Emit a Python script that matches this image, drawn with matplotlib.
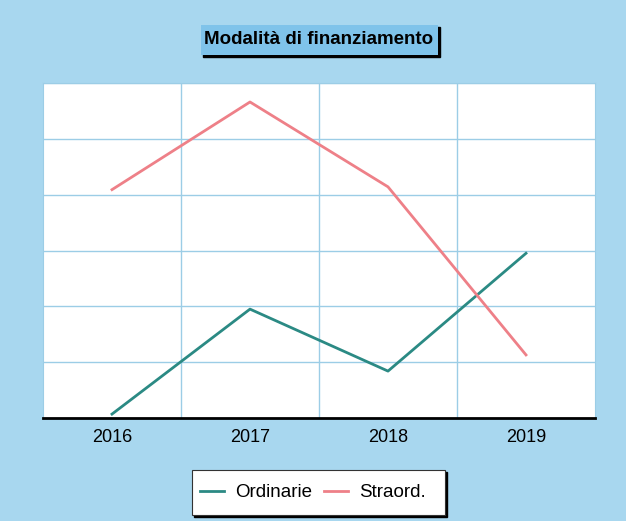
import matplotlib.pyplot as plt
from matplotlib.patches import Rectangle

plt.rcParams["font.family"] = ["Liberation Sans", "DejaVu Sans"]

# dati (scala arbitraria, 6 divisioni)
anni = ["2016", "2017", "2018", "2019"]
ordinarie = [0.07, 1.95, 0.84, 2.95]
straord = [4.09, 5.66, 4.14, 1.13]

bg = "#a8d7ef"
grid_col = "#9ccde6"

fig = plt.figure(figsize=(6.26, 5.21), dpi=100, facecolor=bg)
W, H = 626, 521
ax = fig.add_axes([43 / W, 1 - 418 / H, 552 / W, 335 / H])
ax.set_facecolor("white")

x = range(len(anni))
ax.plot(x, ordinarie, color="#2b8a84", lw=2, label="Ordinarie")
ax.plot(x, straord, color="#ee8088", lw=2, label="Straord.")

ax.set_xlim(-0.5, 3.5)
ax.set_ylim(0, 6)
ax.set_xticks(list(x))
ax.set_xticklabels(anni, fontsize=13)
ax.set_yticks(range(7))
ax.set_yticklabels([])
ax.tick_params(length=0, pad=8)

# griglia: verticali tra le categorie, orizzontali ad ogni unita'
for xv in [0.5, 1.5, 2.5]:
    ax.axvline(xv, color=grid_col, lw=1, zorder=0)
for yv in range(1, 7):
    ax.axhline(yv, color=grid_col, lw=1, zorder=0)

for s in ["top", "right", "left"]:
    ax.spines[s].set_color(grid_col)
ax.spines["bottom"].set_color("black")
ax.spines["bottom"].set_linewidth(2)

# titolo in riquadro con ombra
fig.patches.append(Rectangle((203 / W, 1 - 57 / H), 237 / W, 30 / H,
                             transform=fig.transFigure, color="black", zorder=1))
fig.patches.append(Rectangle((201 / W, 1 - 55 / H), 237 / W, 30 / H,
                             transform=fig.transFigure, facecolor="#7fc3ea",
                             edgecolor="none", zorder=2))
fig.text(319 / W, 1 - 40 / H, "Modalità di finanziamento", ha="center", va="center",
         fontsize=13.5, fontweight="bold", zorder=3)

# legenda
fig.patches.append(Rectangle((194 / W, 1 - 517 / H), 253 / W, 45 / H,
                             transform=fig.transFigure, color="black", zorder=1))
fig.patches.append(Rectangle((192 / W, 1 - 515 / H), 253 / W, 45 / H,
                             transform=fig.transFigure, facecolor="white",
                             edgecolor="#333333", lw=0.8, zorder=2))
leg = fig.legend(loc="center", bbox_to_anchor=(313 / W, 1 - 492.5 / H), ncol=2,
                 frameon=False, fontsize=13.5, handlelength=1.3, columnspacing=0.6,
                 handletextpad=0.6)
leg.set_zorder(3)

fig.savefig("out.png", dpi=100, facecolor=bg)
